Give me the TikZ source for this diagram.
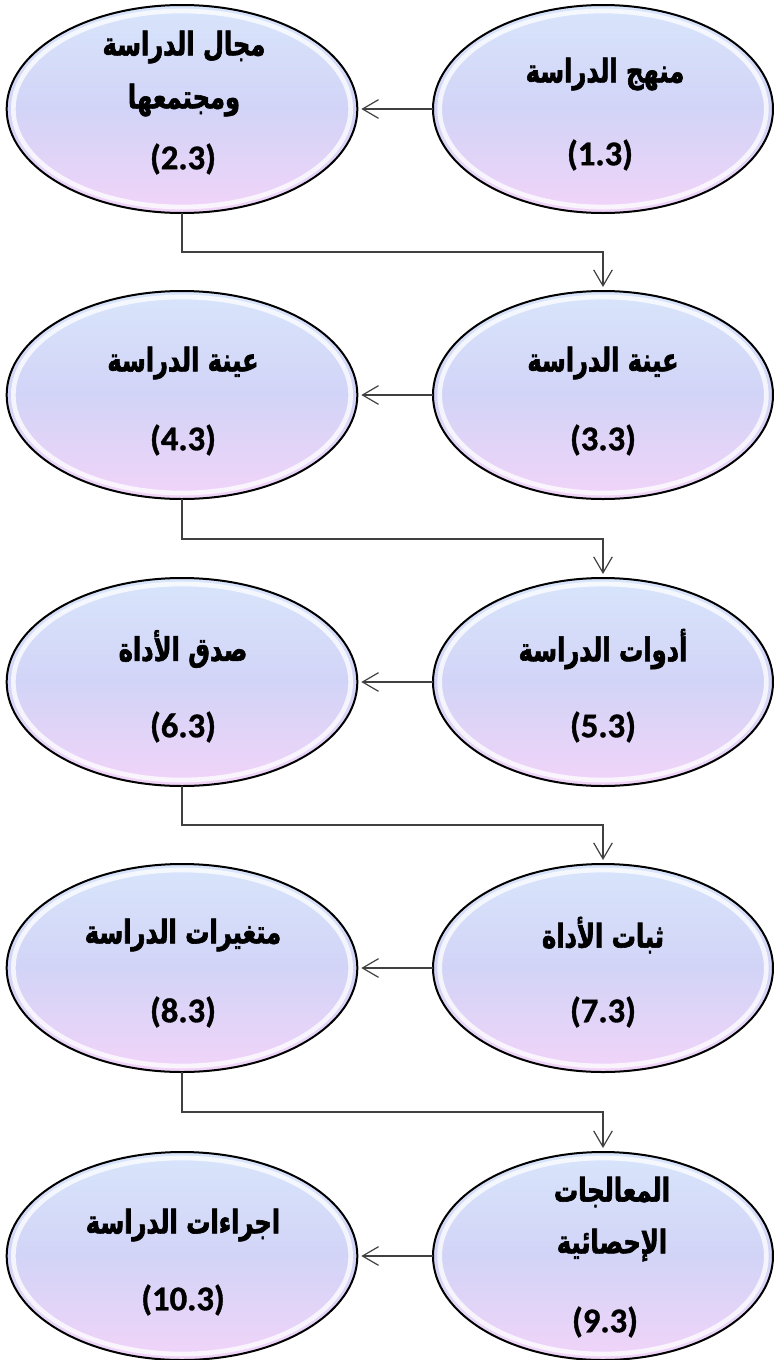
\documentclass[tikz,border=0pt]{standalone}
\usepackage{fontspec}
\usetikzlibrary{shapes.geometric,arrows.meta}
\newfontfamily\arabicfont[Script=Arabic,FakeStretch=0.74,FakeBold=1.8]{DejaVu Sans Bold}
\newfontfamily\numfont[FakeBold=1]{Carlito Bold}
\TeXXeTstate=1
\definecolor{ctop}{RGB}{216,229,251}
\definecolor{cmid}{RGB}{210,212,247}
\definecolor{cbot}{RGB}{241,212,248}
\definecolor{lnc}{RGB}{64,64,64}
\tikzset{
  ell/.style={ellipse, draw=black, line width=1.5pt, inner sep=0pt, outer sep=0pt,
    top color=ctop, bottom color=cbot, middle color=cmid},
  ellL/.style={ell, minimum width=263pt, minimum height=156pt,
    path picture={\draw[white,line width=3.5pt,opacity=.75] (path picture bounding box.center) ellipse [x radius=126.5pt, y radius=73.5pt];}},
  ellR/.style={ell, minimum width=255pt, minimum height=156pt,
    path picture={\draw[white,line width=3.5pt,opacity=.75] (path picture bounding box.center) ellipse [x radius=122.5pt, y radius=73.5pt];}},
  lbl/.style={font=\arabicfont\fontsize{24.5}{28}\selectfont, inner sep=0pt},
  num/.style={font=\numfont\fontsize{26}{29}\selectfont, inner sep=0pt},
  conn/.style={draw=lnc, line width=0.9pt, -{Straight Barb[length=12pt,width=14pt,line width=0.9pt]}, shorten >=3pt}
}
\begin{document}
\begin{tikzpicture}[x=0.75pt,y=-0.75pt]
\useasboundingbox (0,0) rectangle (774,1360);
% ellipses
\node[ellR] (e1) at (603,109) {};
\node[ellL] (e2) at (182,109) {};
\node[ellR] (e3) at (603,395) {};
\node[ellL] (e4) at (182,395) {};
\node[ellR] (e5) at (603,682) {};
\node[ellL] (e6) at (182,682) {};
\node[ellR] (e7) at (603,968) {};
\node[ellL] (e8) at (182,968) {};
\node[ellR] (e9) at (603,1256) {};
\node[ellL] (e10) at (182,1256) {};
% texts
\node[lbl] (t1) at (605,74) {\beginR منهج الدراسة\endR};
\node[num] (n1) at (600,155) {(1.3)};
\node[lbl] (t2a) at (184,47) {\beginR مجال الدراسة\endR};
\node[lbl] (t2b) at (184,100) {\beginR ومجتمعها\endR};
\node[num] (n2) at (183,159) {(2.3)};
\node[lbl] (t3) at (603,363) {\beginR عينة الدراسة\endR};
\node[num] (n3) at (603,440) {(3.3)};
\node[lbl] (t4) at (183,363) {\beginR عينة الدراسة\endR};
\node[num] (n4) at (183,440) {(4.3)};
\node[lbl] (t5) at (603,649) {\beginR أدوات الدراسة\endR};
\node[num] (n5) at (603,727) {(5.3)};
\node[lbl] (t6) at (183,649) {\beginR صدق الأداة\endR};
\node[num] (n6) at (183,727) {(6.3)};
\node[lbl] (t7) at (603,935) {\beginR ثبات الأداة\endR};
\node[num] (n7) at (603,1012) {(7.3)};
\node[lbl] (t8) at (183,935) {\beginR متغيرات الدراسة\endR};
\node[num] (n8) at (183,1012) {(8.3)};
\node[lbl] (t9a) at (612,1192) {\beginR المعالجات\endR};
\node[lbl] (t9b) at (612,1245) {\beginR الإحصائية\endR};
\node[num] (n9) at (605,1322) {(9.3)};
\node[lbl] (t10) at (183,1225) {\beginR اجراءات الدراسة\endR};
\node[num] (n10) at (183,1300) {(10.3)};
% connectors
\coordinate (m2) at (182,252);
\coordinate (m4) at (182,539);
\coordinate (m6) at (182,825);
\coordinate (m8) at (182,1112);
\draw[conn] (e1.west) -- (e2.east);
\draw[conn] (e2.south) -- (m2) -| (e3.north);
\draw[conn] (e3.west) -- (e4.east);
\draw[conn] (e4.south) -- (m4) -| (e5.north);
\draw[conn] (e5.west) -- (e6.east);
\draw[conn] (e6.south) -- (m6) -| (e7.north);
\draw[conn] (e7.west) -- (e8.east);
\draw[conn] (e8.south) -- (m8) -| (e9.north);
\draw[conn] (e9.west) -- (e10.east);
\end{tikzpicture}
\end{document}
